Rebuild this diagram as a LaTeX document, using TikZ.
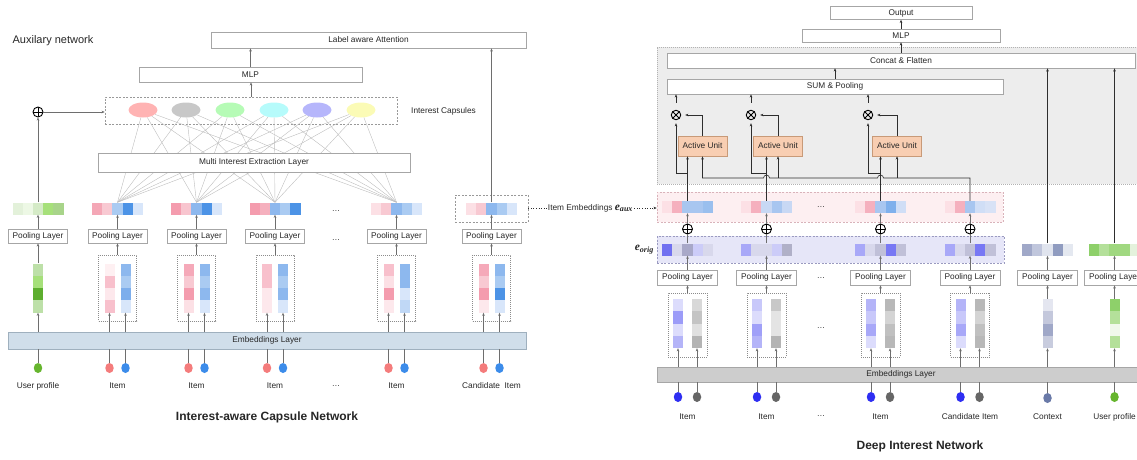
\documentclass[tikz,border=0pt]{standalone}
\usepackage{fontspec}
\setmainfont{Liberation Sans}
\newfontfamily\serifbi{Liberation Serif}
\usetikzlibrary{arrows.meta,shapes.geometric}

\definecolor{boxline}{HTML}{A6A6A6}
\definecolor{linegrey}{HTML}{6E6E6E}
\definecolor{linedark}{HTML}{2E2E2E}
\definecolor{capgrey}{HTML}{BDBDBD}
\definecolor{emblue}{HTML}{D0DEEA}
\definecolor{embline}{HTML}{9FB0BE}
\definecolor{emgrey}{HTML}{CDCDCD}
\definecolor{unitfill}{HTML}{F8CEB2}
\definecolor{unitline}{HTML}{C89A78}
\definecolor{pinkrow}{HTML}{FDEFF1}
\definecolor{pinkline}{HTML}{D9B3BA}
\definecolor{bluerow}{HTML}{E6E6F8}
\definecolor{blueline}{HTML}{9A9AC0}
\definecolor{dinarea}{HTML}{EDEDED}
\definecolor{capa}{HTML}{FFB3B3}
\definecolor{capb}{HTML}{C8C8C8}
\definecolor{capc}{HTML}{B6FBB6}
\definecolor{capd}{HTML}{B6FBFB}
\definecolor{cape}{HTML}{B6B6FB}
\definecolor{capf}{HTML}{FBFBB6}
\definecolor{dotred}{HTML}{F47C7C}
\definecolor{dotblue}{HTML}{3C8CEA}
\definecolor{dotgreen}{HTML}{66B52E}
\definecolor{dotdeep}{HTML}{2E2EF2}
\definecolor{dotgrey}{HTML}{666666}
\definecolor{dotctx}{HTML}{6A7AA8}

\tikzset{
  layerbox/.style={rectangle,draw=boxline,line width=0.6pt,fill=white,inner sep=0pt,font=\fontsize{8.3}{9}\selectfont,text=black!85},
  txt/.style={inner sep=1pt,font=\fontsize{8.3}{9}\selectfont,text=black!85},
  dashbox/.style={rectangle,draw=black!40,dash pattern=on 2pt off 1.5pt,line width=0.5pt,inner sep=0pt},
  dotbox/.style={rectangle,draw=black!45,dash pattern=on 0.8pt off 1.2pt,line width=0.5pt,inner sep=0pt},
  activebox/.style={rectangle,draw=unitline,fill=unitfill,line width=0.6pt,inner sep=0pt,minimum width=49pt,minimum height=20pt,font=\fontsize{8.3}{9}\selectfont,text=black!85},
  capsule/.style={ellipse,inner sep=0pt,minimum width=29pt,minimum height=15pt},
  inputdot/.style={ellipse,inner sep=0pt,minimum width=8.5pt,minimum height=10pt},
  oplus/.style={circle,draw=black,line width=0.9pt,inner sep=0pt,minimum size=10pt,
    path picture={\draw[line width=0.9pt] (path picture bounding box.north) -- (path picture bounding box.south)
      (path picture bounding box.west) -- (path picture bounding box.east);}},
  otimes/.style={circle,draw=black,line width=0.9pt,inner sep=0pt,minimum size=9.5pt,
    path picture={\draw[line width=0.9pt] (path picture bounding box.north west) -- (path picture bounding box.south east)
      (path picture bounding box.north east) -- (path picture bounding box.south west);}},
  graywire/.style={draw=linegrey,line width=0.6pt},
  blackwire/.style={draw=linedark,line width=0.6pt},
  capwire/.style={draw=capgrey,line width=0.4pt},
  embleft/.style={rectangle,draw=embline,fill=emblue,line width=0.6pt,inner sep=0pt,font=\fontsize{8.3}{9}\selectfont,text=black!85},
  embright/.style={rectangle,draw=boxline,fill=emgrey,line width=0.6pt,inner sep=0pt,font=\fontsize{8.3}{9}\selectfont,text=black!85},
  rowpink/.style={rectangle,draw=pinkline,fill=pinkrow,dash pattern=on 2pt off 1.5pt,line width=0.6pt,inner sep=0pt},
  rowblue/.style={rectangle,draw=blueline,fill=bluerow,dash pattern=on 2pt off 1.5pt,line width=0.6pt,inner sep=0pt}
}

\def\hvec#1#2#3#4{
	\path (#2,#3) node(#1) [rectangle,inner sep=0pt,minimum width=51pt,minimum height=12pt] {};
	\foreach \hx [count=\cnt] in {#4} {
		\edef\setcell{\noexpand\definecolor{cellc}{HTML}{\hx}}\setcell
		\fill[cellc] ({#2-25.5+(\cnt-1)*10.2},{#3-6}) rectangle ++(10.2,12);
	}
}
\def\vcol#1#2#3#4{
	\path (#2,#3) node(#1) [rectangle,inner sep=0pt,minimum width=10pt,minimum height=49pt] {};
	\foreach \hx [count=\cnt] in {#4} {
		\edef\setcell{\noexpand\definecolor{cellc}{HTML}{\hx}}\setcell
		\fill[cellc] ({#2-5},{#3-24.5+(\cnt-1)*12.25}) rectangle ++(10,12.25);
	}
}

\def\capstop{
	\path (53,41) node(AuxTitle) [txt,font=\fontsize{11}{12}\selectfont] {Auxilary network}
			(368.5,40) node(LabelAtt) [layerbox,minimum width=315pt,minimum height=16pt] {Label aware Attention}
			(250.5,74.5) node(MlpL) [layerbox,minimum width=223pt,minimum height=15pt] {MLP}
			(251,110.5) node(CapBox) [dashbox,minimum width=292pt,minimum height=27pt] {}
			(443.5,111) node(CapText) [txt] {Interest Capsules}
			(38,112) node(OplusL) [oplus] {};
	\foreach \n/\x/\c in {1/143/capa,2/186/capb,3/230/capc,4/274/capd,5/317/cape,6/361/capf}
		\path (\x,110) node(Cap\n) [capsule,fill=\c] {};
}
\def\capsvec{
	\hvec{PvU}{38}{208.5}{E3F1DA,EDF8E5,D5EBC7,A6E07A,A8D48A}
	\hvec{PvA}{117.5}{208.5}{F4A7B6,F8C9D2,AACBF2,4C93E6,D8E6FA}
	\hvec{PvB}{196.5}{208.5}{F49CAE,F8C5CF,8DB8EE,4C93E6,D8E6FA}
	\hvec{PvC}{275}{208.5}{F49CAE,F5B0BE,8DB8EE,AACBF2,4C93E6}
	\hvec{PvD}{396.5}{208.5}{FCE0E5,F8C9D2,8DB8EE,AACBF2,D8E6FA}
	\hvec{PvE}{491.5}{208.5}{FCE0E5,F8C9D2,8DB8EE,AACBF2,D8E6FA}
	\foreach \i in {1,...,6}
		\foreach \v in {PvA,PvB,PvC,PvD}
			\draw[capwire] (Cap\i) -- (\v.north);
	\path (254,162.5) node(Extract) [layerbox,minimum width=312pt,minimum height=19pt] {Multi Interest Extraction Layer}
			(491.5,208.5) node(CandBox) [dashbox,minimum width=73pt,minimum height=27pt] {}
			(336,211) node(DotsVecL) [txt] {\dots}
			(336,240) node(DotsPoolL) [txt] {\dots};
	\foreach \n/\x in {U/38,A/117.5,B/196.5,C/275,D/396.5,E/491.5}
		\path (\x,236) node(PoolL\n) [layerbox,minimum width=59pt,minimum height=14pt] {Pooling Layer};
}
\def\capsbottom{
	\vcol{ColU}{38}{288}{BDE0A8,A6E07A,5DAE2F,BDE0A8}
	\foreach \n/\x in {A/117.5,B/196.5,C/275,D/396.5,E/491.5}
		\path (\x,288) node(ColBox\n) [dotbox,minimum width=38pt,minimum height=66pt] {};
	\vcol{ColRA}{109.5}{288}{FEF0F2,F8C0CC,FDE8EC,F8C0CC}
	\vcol{ColBA}{125.5}{288}{8DB8EE,AACBF2,7DAEEC,D8E6FA}
	\vcol{ColRB}{188.5}{288}{F5A9B9,F8C9D2,F49CAE,FCE0E5}
	\vcol{ColBB}{204.5}{288}{8DB8EE,AACBF2,8DB8EE,D8E6FA}
	\vcol{ColRC}{267}{288}{F8C0CC,F8C0CC,FDE8EC,FDE8EC}
	\vcol{ColBC}{283}{288}{8DB8EE,AACBF2,8DB8EE,D8E6FA}
	\vcol{ColRD}{388.5}{288}{F8C0CC,FCE0E5,F49CAE,FDE8EC}
	\vcol{ColBD}{404.5}{288}{8DB8EE,8DB8EE,D8E6FA,C0D8F6}
	\vcol{ColRE}{483.5}{288}{F5A9B9,F8C9D2,F49CAE,FDE8EC}
	\vcol{ColBE}{499.5}{288}{8DB8EE,AACBF2,4C93E6,D8E6FA}
	\path (267,340.5) node(EmbL) [embleft,minimum width=518pt,minimum height=17pt] {Embeddings Layer}
			(38,368) node(DotU) [inputdot,fill=dotgreen] {}
			(38,386) node(LabU) [txt] {User profile}
			(336,386) node(DotsLabL) [txt] {\dots}
			(491.5,386) node(LabE) [txt] {Candidate\ \ Item}
			(267,417) node(TitleL) [txt,font=\bfseries\fontsize{12}{14}\selectfont] {Interest-aware Capsule Network};
	\foreach \n/\x in {A/117.5,B/196.5,C/275,D/396.5}
		\path (\x,386) node(Lab\n) [txt] {Item};
	\foreach \n/\x in {A/109.5,B/188.5,C/267,D/388.5,E/483.5}
		\path (\x,368) node(DotR\n) [inputdot,fill=dotred] {};
	\foreach \n/\x in {A/125.5,B/204.5,C/283,D/404.5,E/499.5}
		\path (\x,368) node(DotB\n) [inputdot,fill=dotblue] {};
}
\def\dintop{
	\path (908.5,115.5) node(DinArea) [rectangle,draw=black!30,dash pattern=on 0.8pt off 1.2pt,fill=dinarea,minimum width=503pt,minimum height=137pt] {}
			(901,13) node(OutBox) [layerbox,minimum width=142pt,minimum height=13pt] {Output}
			(901,35.5) node(MlpR) [layerbox,minimum width=198pt,minimum height=13pt] {MLP}
			(901,60.5) node(Concat) [layerbox,minimum width=468pt,minimum height=15pt] {Concat \& Flatten}
			(835,86.5) node(SumPool) [layerbox,minimum width=336pt,minimum height=15pt] {SUM \& Pooling}
			(676,115) node(OtA) [otimes] {}
			(751,115) node(OtB) [otimes] {}
			(868,115) node(OtC) [otimes] {}
			(702.5,146) node(AuA) [activebox] {Active Unit}
			(778,146) node(AuB) [activebox] {Active Unit}
			(897,146) node(AuC) [activebox] {Active Unit}
			(830,207) node(PinkBox) [rowpink,minimum width=346pt,minimum height=30pt] {}
			(830.5,249.5) node(BlueBox) [rowblue,minimum width=347pt,minimum height=27pt] {}
			(821,207) node(DotsVecR) [txt] {\dots}
			(590.5,208) node(EmbAux) [txt] {Item Embeddings {\serifbi\bfseries\itshape\fontsize{11.5}{12}\selectfont e\textsubscript{aux}}}
			(655,250) node(EOrig) [txt,anchor=east] {\serifbi\bfseries\itshape\fontsize{11.5}{12}\selectfont e\textsubscript{orig}};
	\coordinate (Tap) at (0,173);
	\coordinate (Bus) at (0,178);
}
\def\dinvec{
	\hvec{PkA}{687.5}{207}{FCE0E5,F5B0BE,A8C6F0,A8C6F0,9ABFEE}
	\hvec{PkB}{766.5}{207}{FCE0E5,F5B0BE,C8D8F4,A8C6F0,C8D8F4}
	\hvec{PkC}{880.5}{207}{FCE0E5,F5B0BE,A8C6F0,7FB0EC,D0DEF6}
	\hvec{PkD}{970}{207}{FCE0E5,F5B0BE,A8C6F0,D0DEF6,D8E2F6}
	\hvec{BlA}{687.5}{249.5}{7070F0,D8D8EC,A8A8C8,CCCCF8,D8D8EC}
	\hvec{BlB}{766.5}{249.5}{A8A8F8,D8D8EC,D8D8EC,CCCCF8,B0B0C8}
	\hvec{BlC}{880.5}{249.5}{A8A8F8,D8D8EC,C0C0D8,7878F4,C0C0D8}
	\hvec{BlD}{970}{249.5}{A8A8F8,D8D8EC,C0C0D8,7878F4,C0C0D8}
	\hvec{BlX}{1047.5}{249.5}{A0A8C8,C0C6DC,E0E4EE,909CC0,E4E8F0}
	\hvec{BlY}{1114.5}{249.5}{8ED06A,B4E09A,A0D880,A0D880,E4F2DC}
	\foreach \n/\x in {A/687.5,B/766.5,C/880.5,D/970}
		\path (\x,229) node(Op\n) [oplus] {};
	\foreach \n/\x in {A/687.5,B/766.5,C/880.5,D/970,X/1047.5,Y/1114.5}
		\path (\x,277.5) node(PoolR\n) [layerbox,minimum width=60pt,minimum height=15pt] {Pooling Layer};
	\path (821,278) node(DotsPoolR) [txt] {\dots}
			(821,328) node(DotsColR) [txt] {\dots};
}
\def\dinbottom{
	\foreach \n/\x in {A/687.5,B/766.5,C/880.5,D/970}
		\path (\x,325) node(ColBoxR\n) [dotbox,minimum width=39pt,minimum height=64pt] {};
	\vcol{CbA}{678}{323.5}{DCDCFC,9C9CF8,DCDCFC,B4B4F8}
	\vcol{CgA}{697}{323.5}{D8D8D8,C4C4C4,E0E0E0,B4B4B4}
	\vcol{CbB}{757}{323.5}{C8C8FA,DCDCFC,A0A0F8,B4B4F8}
	\vcol{CgB}{776}{323.5}{C8C8C8,E4E4E4,E4E4E4,B4B4B4}
	\vcol{CbC}{871}{323.5}{B4B4F8,C8C8FA,A8A8F8,DCDCFC}
	\vcol{CgC}{890}{323.5}{B8B8B8,D4D4D4,C0C0C0,B8B8B8}
	\vcol{CbD}{960.5}{323.5}{B4B4F8,C8C8FA,A8A8F8,DCDCFC}
	\vcol{CgD}{979.5}{323.5}{B8B8B8,D4D4D4,C0C0C0,B8B8B8}
	\vcol{CcX}{1047.5}{323.5}{E4E6F0,C4C8DC,A0A8C8,C8CCDE}
	\vcol{CcY}{1114.5}{323.5}{8ED06A,B4E09A,F0F8EC,B4E09A}
	\path (901,374.5) node(EmbR) [embright,minimum width=488pt,minimum height=15pt] {Embeddings Layer}
			(1047.5,398) node(DotX) [inputdot,fill=dotctx] {}
			(1114.5,397) node(DotY) [inputdot,fill=dotgreen] {}
			(821,416) node(DotsLabR) [txt] {\dots}
			(970,417) node(LabRD) [txt] {Candidate Item}
			(1047.5,417) node(LabRX) [txt] {Context}
			(1114.5,417) node(LabRY) [txt] {User profile}
			(920,446) node(TitleR) [txt,font=\bfseries\fontsize{12}{14}\selectfont] {Deep Interest Network};
	\foreach \n/\x in {A/687.5,B/766.5,C/880.5}
		\path (\x,417) node(LabR\n) [txt] {Item};
	\foreach \n/\x in {A/678,B/757,C/871,D/960.5}
		\path (\x,397) node(DotB\n R) [inputdot,fill=dotdeep] {};
	\foreach \n/\x in {A/697,B/776,C/890,D/979.5}
		\path (\x,397) node(DotG\n) [inputdot,fill=dotgrey] {};
}

\begin{document}
\begin{tikzpicture}[x=1pt,y=-1pt,>={Stealth[length=3.2pt,width=2.6pt]}]
\path[use as bounding box,clip] (0,0) rectangle (1137,459);
\capstop
\capsvec
\capsbottom
\dintop
\dinvec
\dinbottom
\draw[graywire,->] (MlpL.north) -- (MlpL.north |- LabelAtt.south);
\draw[graywire,->] (CapBox.north) -- (CapBox.north |- MlpL.south);
\draw[graywire,->] (OplusL.east) -- (OplusL.east -| CapBox.west);
\draw[graywire,->] (PvU.north) -- (OplusL.south);
\draw[graywire,->] (PvE.north) -- (PvE.north |- LabelAtt.south);
\draw[graywire,->] (ColU.north) -- (PoolLU.south);
\draw[graywire,->] (ColU.south |- EmbL.north) -- (ColU.south);
\draw[graywire] (DotU) -- (DotU |- EmbL.south);
\foreach \n in {U,A,B,C,D,E}
	\draw[graywire,->] (PoolL\n.north) -- (Pv\n.south);
\foreach \n in {A,B,C,D,E} {
	\draw[graywire,->] (ColBox\n.north) -- (PoolL\n.south);
	\draw[graywire,->] (ColR\n.south |- EmbL.north) -- (ColR\n.south);
	\draw[graywire,->] (ColB\n.south |- EmbL.north) -- (ColB\n.south);
	\draw[graywire] (DotR\n) -- (DotR\n |- EmbL.south);
	\draw[graywire] (DotB\n) -- (DotB\n |- EmbL.south);
}
\draw[blackwire,dotted] (CandBox.east) -- (CandBox.east -| EmbAux.west);
\draw[blackwire,dotted,->] (EmbAux.east) -- (EmbAux.east -| PinkBox.west);
\draw[blackwire,->] (MlpR.north) -- (OutBox.south);
\draw[blackwire,->] (Concat.north) -- (MlpR.south);
\draw[blackwire,->] (SumPool.north) -- (SumPool.north |- Concat.south);
\foreach \n in {A,B,C} {
	\coordinate (Jn\n) at (Pk\n.north |- Tap);
	\draw[blackwire,->,shorten <=7pt] (Ot\n.north) -- (Ot\n.north |- SumPool.south);
	\draw[blackwire,->,shorten >=4pt] (Au\n.north) |- (Ot\n.east);
	\draw[blackwire,->,shorten >=3pt] (Jn\n) -| (Ot\n.south);
	\draw[blackwire,->] (Pk\n.north) -- (Pk\n.north |- Au\n.south);
}
\coordinate (BrB) at (PkB.north |- Bus);
\coordinate (BrC) at (PkC.north |- Bus);
\draw[blackwire,->] (PkD.north) -- (PkD.north |- Bus) -- ([xshift=3pt]BrC) arc[start angle=0,end angle=180,radius=3pt]
	-- ([xshift=3pt]BrB) arc[start angle=0,end angle=180,radius=3pt] -- (AuA.south |- Bus) -- (AuA.south);
\draw[blackwire,->] (AuB.south |- Bus) -- (AuB.south);
\draw[blackwire,->] (AuC.south |- Bus) -- (AuC.south);
\draw[blackwire,->] (BlX.north) -- (BlX.north |- Concat.south);
\draw[blackwire,->] (BlY.north) -- (BlY.north |- Concat.south);
\foreach \n in {A,B,C,D} {
	\draw[graywire] (Bl\n.north) -- (Op\n.south);
	\draw[graywire,->] (Op\n.north) -- (Pk\n.south);
	\draw[graywire,->] (ColBoxR\n.north) -- (PoolR\n.south);
	\draw[graywire,->] (Cb\n.south |- EmbR.north) -- (Cb\n.south);
	\draw[graywire,->] (Cg\n.south |- EmbR.north) -- (Cg\n.south);
	\draw[graywire] (DotB\n R) -- (DotB\n R |- EmbR.south);
	\draw[graywire] (DotG\n) -- (DotG\n |- EmbR.south);
}
\foreach \n in {A,B,C,D,X,Y}
	\draw[graywire,->] (PoolR\n.north) -- (Bl\n.south);
\draw[graywire,->] (CcX.north) -- (PoolRX.south);
\draw[graywire,->] (CcY.north) -- (PoolRY.south);
\draw[graywire,->] (CcX.south |- EmbR.north) -- (CcX.south);
\draw[graywire,->] (CcY.south |- EmbR.north) -- (CcY.south);
\draw[graywire] (DotX) -- (DotX |- EmbR.south);
\draw[graywire] (DotY) -- (DotY |- EmbR.south);
\end{tikzpicture}
\end{document}
